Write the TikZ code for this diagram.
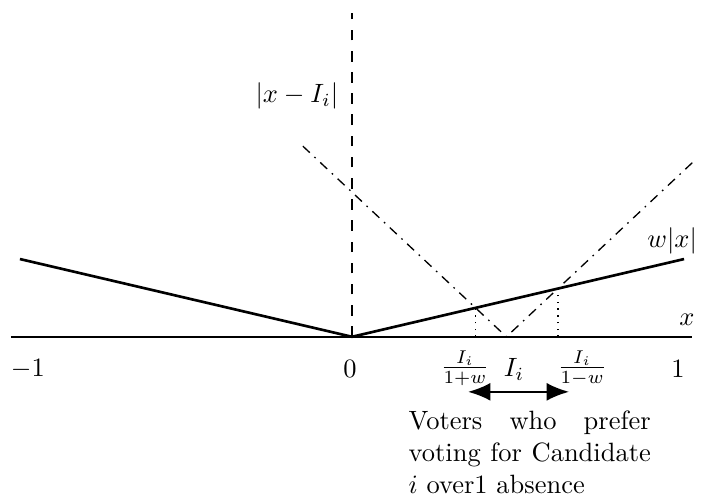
\documentclass[tikz,border=0pt]{standalone}
\usepackage{amsmath}
\usetikzlibrary{positioning,arrows.meta,calc}

\begin{document}
\begin{tikzpicture}[
  x=4.41cm, y=4.13cm,
  axisline/.style={line width=0.7pt},
  utilline/.style={line width=1pt},
  costline/.style={line width=0.5pt, dash pattern=on 3.6pt off 2.4pt on 0.6pt off 2.4pt},
  vertline/.style={line width=0.5pt, dash pattern=on 4pt off 4pt},
  guideline/.style={line width=0.55pt, dotted},
  ticklabel/.style={inner sep=0pt},
  rangearrow/.style={{Latex[length=3mm,width=2.4mm]}-{Latex[length=3mm,width=2.4mm]}, line width=0.9pt}
]
\useasboundingbox (-1.060,-0.514) rectangle (1.051,1.083);
% points on the x axis
\coordinate (axL) at (-1.027,0);
\coordinate (axR) at (1.024,0);
\coordinate (orig) at (0,0);
\coordinate (top) at (0,1.04);
\coordinate (Ii) at (0.465,0);
\coordinate (lo) at (0.372,0);
\coordinate (hi) at (0.62,0);
% end points of the two curves
\coordinate (wL) at (-1,0.25);
\coordinate (wR) at (1,0.25);
\coordinate (wlo) at (0.372,0.093);
\coordinate (whi) at (0.62,0.155);
\coordinate (vL) at (-0.148,0.613);
\coordinate (vR) at (1.027,0.562);
\coordinate (arrL) at (0.349,-0.177);
\coordinate (arrR) at (0.654,-0.177);

\draw[axisline] (axL) -- (axR);
\draw[vertline] (orig) -- (top);
\draw[utilline] (wL) -- (orig) -- (wR);
\draw[costline] (vL) -- (Ii) -- (vR);
\draw[guideline] (lo) -- (wlo);
\draw[guideline] (hi) -- (whi);

% labels
\node[ticklabel] (tkm1) at (-0.976,-0.103) {$-1$};
\node[ticklabel] (tk0) at (-0.006,-0.103) {$0$};
\node[ticklabel] (tklo) at (0.340,-0.100) {$\frac{I_i}{1+w}$};
\node[ticklabel] (tkI) at (0.488,-0.106) {$I_i$};
\node[ticklabel] (tkhi) at (0.693,-0.100) {$\frac{I_i}{1-w}$};
\node[ticklabel] (tk1) at (0.982,-0.103) {$1$};
\node[ticklabel] (xlbl) at (1.009,0.055) {$x$};
\node[ticklabel] (wlbl) at (0.964,0.309) {$w|x|$};
\node[ticklabel] (vlbl) at (-0.166,0.775) {$|x-I_i|$};

\draw[rangearrow] (arrL) -- (arrR);
\node[anchor=north west, inner sep=0pt, text width=91.5pt, align=justify] (voters) at (0.169,-0.238)
  {Voters who prefer\linebreak voting for Candidate\linebreak $i$ over1 absence};
\end{tikzpicture}
\end{document}
